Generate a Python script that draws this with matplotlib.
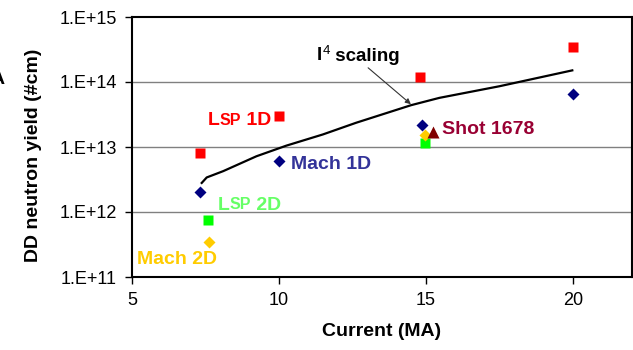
import matplotlib
matplotlib.use("Agg")
import matplotlib.pyplot as plt

plt.rcParams['font.family'] = ['Liberation Sans', 'DejaVu Sans']

# Data
lsp1d_x = [7.3, 10.0, 14.8, 20.0]
lsp1d_y = [8.0e12, 3.0e13, 1.2e14, 3.4e14]
mach1d_x = [7.3, 10.0, 14.85, 20.0]
mach1d_y = [2.0e12, 6.0e12, 2.2e13, 6.5e13]
lsp2d_x = [7.6, 14.95]
lsp2d_y = [7.4e11, 1.15e13]
mach2d_x = [7.63, 14.95]
mach2d_y = [3.5e11, 1.55e13]
shot_x = [15.23]
shot_y = [1.7e13]
scaling_x = [7.37, 7.54, 8.1, 9.23, 10.25, 11.49, 12.62, 14.49, 15.45, 17.49, 19.97]
scaling_y = [2.8e12, 3.4e12, 4.25e12, 7.2e12, 1.05e13, 1.56e13, 2.36e13, 4.4e13, 5.7e13, 8.6e13, 1.51e14]

x_ticks = [5, 10, 15, 20]
y_ticks = [1e11, 1e12, 1e13, 1e14, 1e15]
y_ticklabels = ['1.E+11', '1.E+12', '1.E+13', '1.E+14', '1.E+15']

fig = plt.figure(figsize=(6.33, 3.5), dpi=100)
ax = fig.add_axes([132/633, 1-277/350, 500/633, 260/350])
ax.set_yscale('log')
ax.set_xlim(5, 22)
ax.set_ylim(1e11, 1e15)

for yv in y_ticks[1:-1]:
    ax.axhline(yv, color='#808080', lw=1.0, zorder=1)

ax.plot(scaling_x, scaling_y, color='black', lw=1.6, zorder=3)
ax.plot(lsp1d_x, lsp1d_y, 's', color='#FF0000', ms=6.5, mec='none', zorder=4)
ax.plot(mach1d_x, mach1d_y, 'D', color='#000080', ms=6, mec='none', zorder=4)
ax.plot(lsp2d_x, lsp2d_y, 's', color='#00FF00', ms=6.5, mec='none', zorder=4)
ax.plot(mach2d_x, mach2d_y, 'D', color='#FFCC00', ms=6, mec='none', zorder=4)
ax.plot(shot_x, shot_y, '^', color='#800000', ms=9, mec='none', zorder=5)

ax.set_xticks(x_ticks)
ax.set_yticks(y_ticks)
ax.set_yticklabels(y_ticklabels)
ax.minorticks_off()
ax.tick_params(axis='both', direction='out', length=5, width=1, labelsize=13, pad=6, color='black')

for s in ax.spines.values():
    s.set_color('black')
    s.set_linewidth(1.5)

ax.set_xlabel('Current (MA)', fontsize=14, fontweight='bold', labelpad=10)
ax.set_ylabel('DD neutron yield (#cm)', fontsize=14, fontweight='bold')
ax.yaxis.label.set_va('center')
ax.yaxis.set_label_coords((34-132)/500, (277-155)/260)

def px(xp, yp):
    return ax.transData.inverted().transform(fig.transFigure.transform((xp/633, 1-yp/350)))

# I^4 annotation
tip = px(413, 106)
ax.annotate('', xy=tip, xytext=px(366, 66),
            arrowprops=dict(arrowstyle='-|>', color='#333333', lw=0.8, mutation_scale=8), zorder=6)
p = px(317, 56)
i1 = ax.text(p[0], p[1], 'I', fontsize=13.5, fontweight='bold', color='black', va='center', ha='left')
i2 = ax.annotate('4', xy=(1, 0), xycoords=i1, fontsize=9.5, color='black',
                 va='bottom', ha='left', xytext=(0.2, 5.5), textcoords='offset points')
ax.annotate(' scaling', xy=(1, 0), xycoords=i2, fontsize=13.5, fontweight='bold', color='black',
            va='bottom', ha='left', xytext=(0, -6.2), textcoords='offset points')

def smallcaps_label(xp, yp, color, rest):
    p = px(xp, yp)
    t1 = ax.text(p[0], p[1], 'L', fontsize=14, fontweight='bold', color=color, va='center', ha='left')
    t2 = ax.annotate('SP', xy=(1, 0), xycoords=t1, fontsize=11.5, fontweight='bold', color=color,
                     va='bottom', ha='left', xytext=(0, 0.8), textcoords='offset points')
    ax.annotate(rest, xy=(1.0, 0), xycoords=t2, fontsize=14, fontweight='bold', color=color,
                va='bottom', ha='left', xytext=(0, -0.8), textcoords='offset points')

smallcaps_label(208, 121, '#FF0000', ' 1D')
smallcaps_label(218, 205, '#66FF66', ' 2D')

p = px(291, 165)
ax.text(p[0], p[1], 'Mach 1D', fontsize=14, fontweight='bold', color='#333399', va='center', ha='left')
p = px(137, 260)
ax.text(p[0], p[1], 'Mach 2D', fontsize=14, fontweight='bold', color='#FFCC00', va='center', ha='left')
p = px(442, 130)
ax.text(p[0], p[1], 'Shot 1678', fontsize=14, fontweight='bold', color='#990033', va='center', ha='left')

fig.text(-9/633, 1-80/350, 'A', fontsize=14, fontweight='bold', color='black', va='center', ha='left')

fig.savefig('out.png', dpi=100)
